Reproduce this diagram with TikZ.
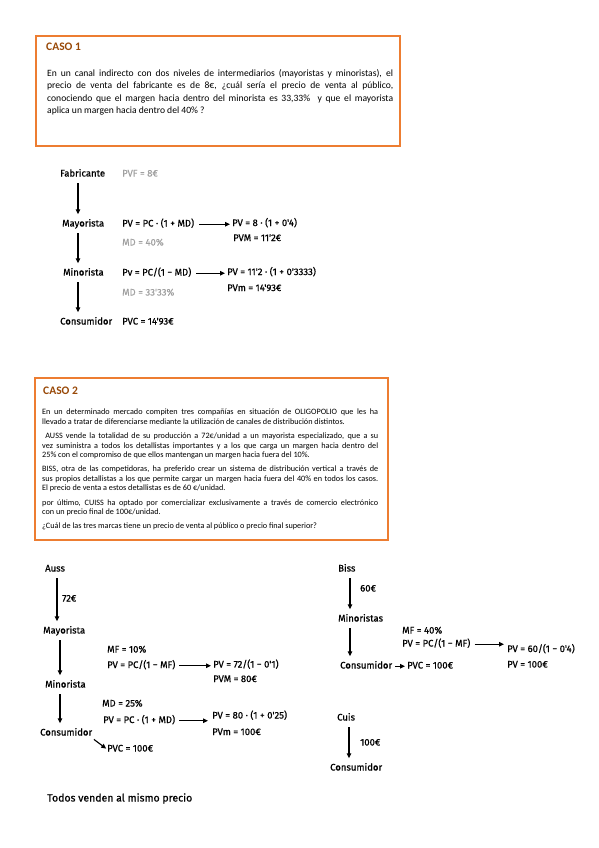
\documentclass[tikz,border=0pt]{standalone}
\usepackage{fontspec}
\setmainfont{Carlito}
\newfontfamily\handfont[FakeBold=0.6]{Fira Sans}
\usetikzlibrary{arrows.meta,positioning}
\definecolor{boxorange}{RGB}{237,125,49}
\definecolor{titlebrown}{RGB}{152,72,7}
\definecolor{notegrey}{RGB}{160,160,160}
\tikzset{
  box/.style={draw=boxorange,line width=2pt},
  boxtitle/.style={anchor=base west,inner sep=0pt,text=titlebrown,font=\bfseries\fontsize{11.5}{13}\selectfont},
  hand/.style={anchor=base west,inner sep=0pt,text height=7pt,text depth=2.5pt,font=\handfont\fontsize{9.5}{11}\selectfont},
  note/.style={hand,text=notegrey},
  flow/.style={-{Triangle[length=5pt,width=4.5pt]},line width=1.1pt,shorten <=4pt,shorten >=5pt}
}
\begin{document}
\begin{tikzpicture}[x=1pt,y=-1pt]
\useasboundingbox (0,0) rectangle (599,848);

\draw[box] (36,36) rectangle (400,146);
\node[boxtitle] (t1) at (46,50.5) {CASO 1};
\node[anchor=north west,inner sep=0pt,text width=346pt,align=justify,
  font=\fontsize{9.6}{12.4}\selectfont] (q1) at (47,69)
  {En un canal indirecto con dos niveles de intermediarios (mayoristas y minoristas), el\linebreak
   precio de venta del fabricante es de 8€, ¿cuál sería el precio de venta al público,\linebreak
   conociendo que el margen hacia dentro del minorista es 33,33\%~ y que el mayorista\linebreak
   aplica un margen hacia dentro del 40\% ?};

\node[hand] (fab) at (60,176.5) {Fabricante};
\node[note] (pvf) at (122,176.5) {PVF = 8€};
\node[hand] (may) at (62,226.5) {Mayorista};
\node[hand] (mayf) at (122,226.5) {PV = PC · (1 + MD)};
\node[hand] (mayr) at (232,226) {PV = 8 · (1 + 0'4)};
\node[hand] (maypv) at (233,241) {PVM = 11'2€};
\node[note] (maymd) at (122,245.5) {MD = 40\%};
\node[hand] (min) at (63,275.5) {Minorista};
\node[hand] (minf) at (122,275.5) {Pv = PC/(1 − MD)};
\node[hand] (minr) at (227,275) {PV = 11'2 · (1 + 0'3333)};
\node[hand] (minpv) at (227,291) {PVm = 14'93€};
\node[note] (minmd) at (122,295.5) {MD = 33'33\%};
\node[hand] (con) at (60,324.5) {Consumidor};
\node[hand] (pvc) at (122,324.5) {PVC = 14'93€};

\draw[flow] ([xshift=18pt]fab.south west) -- ([xshift=18pt]fab.south west |- may.north);
\draw[flow] ([xshift=16pt]may.south west) -- ([xshift=16pt]may.south west |- min.north);
\draw[flow] ([xshift=15pt]min.south west) -- ([xshift=15pt]min.south west |- con.north);
\draw[flow,shorten <=5pt,shorten >=2pt] (mayf.east) -- (mayf.east -| mayr.west);
\draw[flow,shorten <=5pt,shorten >=2pt] (minf.east) -- (minf.east -| minr.west);

\draw[box] (35,378) rectangle (388,540);
\node[boxtitle] (t2) at (43,394.5) {CASO 2};
\node[anchor=north west,inner sep=0pt,text width=336pt,align=justify,
  font=\fontsize{8.2}{9.4}\selectfont,execute at begin node={\setlength{\parskip}{5pt}}] (q2) at (42,409)
  {En un determinado mercado compiten tres compañías en situación de OLIGOPOLIO que les ha\linebreak
   llevado a tratar de diferenciarse mediante la utilización de canales de distribución distintos.\par
   ~AUSS vende la totalidad de su producción a 72€/unidad a un mayorista especializado, que a su\linebreak
   vez suministra a todos los detallistas importantes y a los que carga un margen hacia dentro del\linebreak
   25\% con el compromiso de que ellos mantengan un margen hacia fuera del 10\%.\par
   BISS, otra de las competidoras, ha preferido crear un sistema de distribución vertical a través de\linebreak
   sus propios detallistas a los que permite cargar un margen hacia fuera del 40\% en todos los casos.\linebreak
   El precio de venta a estos detallistas es de 60 €/unidad.\par
   por último, CUISS ha optado por comercializar exclusivamente a través de comercio electrónico\linebreak
   con un precio final de 100€/unidad.\par
   ¿Cuál de las tres marcas tiene un precio de venta al público o precio final superior?};

\node[hand] (auss) at (45,571.5) {Auss};
\node[hand] (a72) at (62,601.5) {72€};
\node[hand] (amay) at (43,633.5) {Mayorista};
\node[hand] (amf) at (107,652.5) {MF = 10\%};
\node[hand] (amayf) at (107,668) {PV = PC/(1 − MF)};
\node[hand] (amayr) at (213,667.5) {PV = 72/(1 − 0'1)};
\node[hand] (amaypv) at (213,682) {PVM = 80€};
\node[hand] (amin) at (45,687.5) {Minorista};
\node[hand] (amd) at (102,706.5) {MD = 25\%};
\node[hand] (aminf) at (103,723) {PV = PC · (1 + MD)};
\node[hand] (aminr) at (212,718.5) {PV = 80 · (1 + 0'25)};
\node[hand] (aminpv) at (212,735) {PVm = 100€};
\node[hand] (acon) at (40,735.5) {Consumidor};
\node[hand] (apvc) at (107,751.5) {PVC = 100€};

\draw[flow] ([xshift=12pt]auss.south west) -- ([xshift=12pt]auss.south west |- amay.north);
\draw[flow] ([xshift=17pt]amay.south west) -- ([xshift=17pt]amay.south west |- amin.north);
\draw[flow] ([xshift=15pt]amin.south west) -- ([xshift=15pt]amin.south west |- acon.north);
\draw[flow,shorten <=4pt,shorten >=2pt] (amayf.east) -- (amayf.east -| amayr.west);
\draw[flow,shorten <=4pt,shorten >=4pt] (aminf.east) -- (aminf.east -| aminr.west);
\draw[flow,shorten <=2pt,shorten >=1pt] (acon.south east) -- (apvc.west);

\node[hand] (biss) at (338,571.5) {Biss};
\node[hand] (b60) at (360,591.5) {60€};
\node[hand] (bmin) at (338,621.5) {Minoristas};
\node[hand] (bmf) at (402,633.5) {MF = 40\%};
\node[hand] (bminf) at (402,646.5) {PV = PC/(1 − MF)};
\node[hand] (bminr) at (507,652) {PV = 60/(1 − 0'4)};
\node[hand] (bcon) at (340,668.5) {Consumidor};
\node[hand] (bpvc) at (407,668.5) {PVC = 100€};
\node[hand] (bpv) at (507,667.5) {PV = 100€};

\draw[flow] ([xshift=12pt]biss.south west) -- ([xshift=12pt]biss.south west |- bmin.north);
\draw[flow] ([xshift=12pt]bmin.south west) -- ([xshift=12pt]bmin.south west |- bcon.north);
\draw[flow,shorten <=4pt,shorten >=3pt] (bminf.east) -- (bminf.east -| bminr.west);
\draw[flow,shorten <=3pt,shorten >=2pt] (bcon.east) -- (bpvc.west);

\node[hand] (cuis) at (337,720.5) {Cuis};
\node[hand] (c100) at (360,745.5) {100€};
\node[hand] (ccon) at (330,770.5) {Consumidor};
\draw[flow] ([xshift=12pt]cuis.south west) -- ([xshift=19pt]ccon.north west);

\node[hand,font=\handfont\fontsize{10.5}{12}\selectfont] (todos) at (47,801.5) {Todos venden al mismo precio};

\end{tikzpicture}
\end{document}
